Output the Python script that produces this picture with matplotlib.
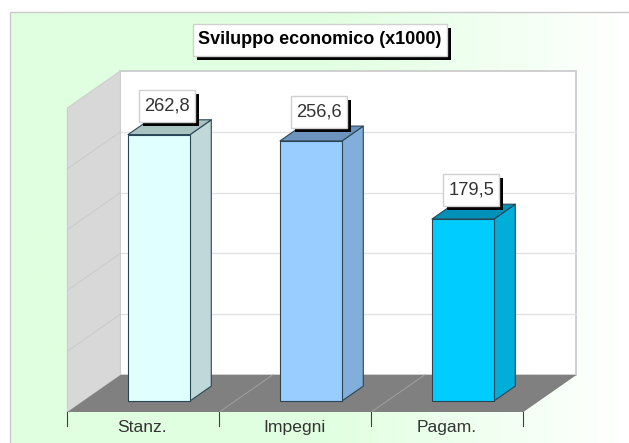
import matplotlib.pyplot as plt
import numpy as np
from matplotlib.colors import LinearSegmentedColormap
from matplotlib.patches import Polygon, Rectangle

categories = ["Stanz.", "Impegni", "Pagam."]
values = [262.8, 256.6, 179.5]
grid_values = [60, 120, 180, 240]
front_colors = ["#E0FFFF", "#99CCFF", "#00CCFF"]
side_colors = ["#C0D8D8", "#82AEDA", "#00AEDA"]
top_colors = ["#A8C2C2", "#6C93BE", "#0090B8"]
title = "Sviluppo economico (x1000)"

plt.rcParams["font.family"] = ["Liberation Sans", "DejaVu Sans"]

WIDTH, HEIGHT = 629, 443
# pixels per category / per value unit
PX_CAT = 152.0
PX_VAL = 304 / 300
Y_MAX = 300
# how far the floor goes back, in data units
DEPTH_X = 53 / PX_CAT
DEPTH_Y = 37 / PX_VAL
BAR_WIDTH = 0.405
BAR_D0, BAR_D1 = 0.3, 0.7


def proj(x, v, d=0.0):
    return x + d * DEPTH_X, v + d * DEPTH_Y


def px_box(ax, x, y, w, h, **kw):
    # x, y is the box centre in data units, w and h are pixels
    ww, hh = w / PX_CAT, h / PX_VAL
    ax.add_patch(Rectangle((x - ww / 2, y - hh / 2), ww, hh, **kw))


def label_box(ax, x, y, w, h, text, **kw):
    # black shadow, 4px to the right and down
    px_box(ax, x + 4 / PX_CAT, y - 4 / PX_VAL, w, h, fc="black", ec="none", zorder=6)
    px_box(ax, x, y, w, h, fc="white", ec="#D0D0D0", lw=1, zorder=7)
    ax.text(x, y, text, ha="center", va="center", zorder=8, **kw)


fig = plt.figure(figsize=(WIDTH / 100, HEIGHT / 100), dpi=100)
ax = fig.add_axes([0, 0, 1, 1])
x_left = -0.5 - 67.4 / PX_CAT
y_bottom = -(HEIGHT - 412) / PX_VAL
ax.set_xlim(x_left, x_left + WIDTH / PX_CAT)
ax.set_ylim(y_bottom, y_bottom + HEIGHT / PX_VAL)
ax.axis("off")

# background, green on the left fading to white
cmap = LinearSegmentedColormap.from_list("bg", ["#E0FFE0", "#E0FFE0", "#FFFFFF"])
x_bg = x_left + 10 / PX_CAT
y_bg = y_bottom + (HEIGHT - 12) / PX_VAL
ax.imshow(
    np.linspace(0, 1, 256).reshape(1, -1),
    cmap=cmap,
    extent=(x_bg, x_left + WIDTH / PX_CAT, y_bottom, y_bg),
    aspect="auto",
    zorder=0,
)
ax.set_xlim(x_left, x_left + WIDTH / PX_CAT)
ax.set_ylim(y_bottom, y_bottom + HEIGHT / PX_VAL)
ax.plot([x_bg, x_bg, x_left + WIDTH / PX_CAT], [y_bottom, y_bg, y_bg], color="#C8C8C8", lw=1, zorder=1)

x0, x1 = -0.5, len(categories) - 0.5

# back wall, left wall, floor
back = [proj(x0, 0, 1), proj(x1, 0, 1), proj(x1, Y_MAX, 1), proj(x0, Y_MAX, 1)]
ax.add_patch(Polygon(back, fc="white", ec="#CCCCCC", lw=1.3, zorder=1))
left = [proj(x0, 0), proj(x0, 0, 1), proj(x0, Y_MAX, 1), proj(x0, Y_MAX)]
ax.add_patch(Polygon(left, fc="#D8D8D8", ec="#CDCDCD", lw=0.8, zorder=2))
floor = [proj(x0, 0), proj(x1, 0), proj(x1, 0, 1), proj(x0, 0, 1)]
ax.add_patch(Polygon(floor, fc="#808080", ec="none", zorder=2))

for g in grid_values:
    gx, gy = zip(proj(x0, g, 1), proj(x1, g, 1))
    ax.plot(gx, gy, color="#E2E2E2", lw=1, zorder=1.5)
    gx, gy = zip(proj(x0, g), proj(x0, g, 1))
    ax.plot(gx, gy, color="#CACACA", lw=0.7, zorder=3)

# category separators on the floor and ticks below it
for i in range(len(categories) + 1):
    xs = x0 + i
    if 0 < i < len(categories):
        gx, gy = zip(proj(xs, 0), proj(xs, 0, 1))
        ax.plot(gx, gy, color="#A0A0A0", lw=0.7, zorder=3)
    ax.plot([xs, xs], [0, -14 / PX_VAL], color="#404040", lw=0.8, zorder=3)

for i, (cat, v) in enumerate(zip(categories, values)):
    a, b = i - BAR_WIDTH / 2, i + BAR_WIDTH / 2
    a -= 0.5 / PX_CAT
    edge = {"ec": "#2A4656", "lw": 0.8, "joinstyle": "round", "zorder": 4}
    ax.add_patch(Polygon([proj(b, 0, BAR_D0), proj(b, 0, BAR_D1), proj(b, v, BAR_D1), proj(b, v, BAR_D0)], fc=side_colors[i], **edge))
    ax.add_patch(Polygon([proj(a, v, BAR_D0), proj(b, v, BAR_D0), proj(b, v, BAR_D1), proj(a, v, BAR_D1)], fc=top_colors[i], **edge))
    ax.add_patch(Polygon([proj(a, 0, BAR_D0), proj(b, 0, BAR_D0), proj(b, v, BAR_D0), proj(a, v, BAR_D0)], fc=front_colors[i], **edge))

    lx, ly = proj(i, v, BAR_D0)
    label_box(ax, lx + 8 / PX_CAT, ly + 29 / PX_VAL, 56, 32, f"{v:.1f}".replace(".", ","), fontsize=13.2, color="#333333")
    ax.text(i - 1 / PX_CAT, -15.5 / PX_VAL, cat, ha="center", va="center", fontsize=12.6, color="#333333", zorder=5)

label_box(ax, x_left + 320 / PX_CAT, (412 - 40) / PX_VAL, 254, 32, title, fontsize=13, fontweight="bold", color="black")

fig.savefig("out.png", dpi=100)
